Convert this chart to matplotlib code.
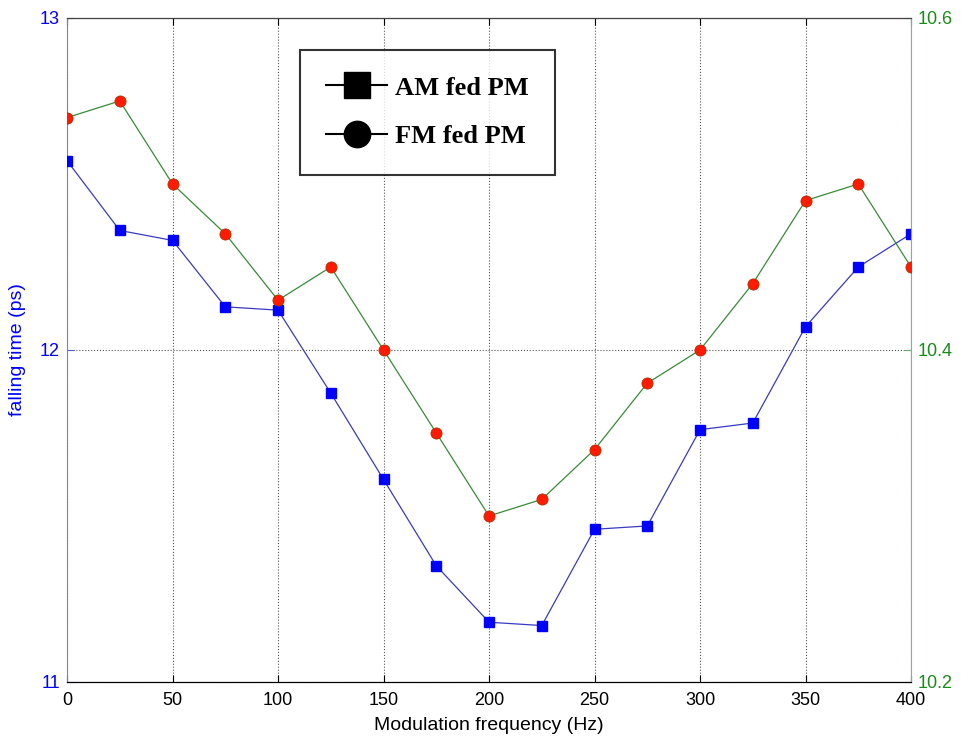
import matplotlib
matplotlib.use('Agg')
import matplotlib.pyplot as plt
from matplotlib.lines import Line2D

plt.rcParams['font.family'] = ['Liberation Sans', 'DejaVu Sans']

# modulation frequency (Hz)
freq = [0, 25, 50, 75, 100, 125, 150, 175, 200, 225, 250, 275, 300, 325, 350, 375, 400]
# AM fed PM, falling time (ps), left axis
am_fall = [12.57, 12.36, 12.33, 12.13, 12.12, 11.87, 11.61, 11.35, 11.18,
           11.17, 11.46, 11.47, 11.76, 11.78, 12.07, 12.25, 12.35]
# FM fed PM, right axis
fm_fall = [10.54, 10.55, 10.50, 10.47, 10.43, 10.45, 10.40, 10.35, 10.30,
           10.31, 10.34, 10.38, 10.40, 10.44, 10.49, 10.50, 10.45]

x_ticks = [0, 50, 100, 150, 200, 250, 300, 350, 400]
left_ticks = [11, 12, 13]
right_ticks = [10.2, 10.4, 10.6]
legend_labels = ['AM fed PM', 'FM fed PM']

blue = '#0000ff'
green = '#1a8a1a'

fig = plt.figure(figsize=(9.66, 7.40), dpi=100)
fig.patch.set_facecolor('white')
ax = fig.add_axes([0.0694, 0.0784, 0.8737, 0.8973])
ax2 = ax.twinx()

ax.plot(freq, am_fall, color='#3a3ac0', lw=0.9, marker='s', ms=7,
        mfc=blue, mec=blue, zorder=3)
ax2.plot(freq, fm_fall, color='#3a8a3a', lw=0.9, marker='o', ms=8,
         mfc='#ff1a00', mec='#b03000', mew=0.6, zorder=3)

ax.set_xlim(0, 400)
ax.set_ylim(11, 13)
ax2.set_ylim(10.2, 10.6)
ax.set_xticks(x_ticks)
ax.set_yticks(left_ticks)
ax2.set_yticks(right_ticks)
ax.set_yticklabels([str(t) for t in left_ticks])
ax2.set_yticklabels([f'{t:.1f}' for t in right_ticks])

ax.grid(True, linestyle=':', color='#555555', lw=0.8)
ax.tick_params(direction='in', length=5, labelsize=13, pad=5)
ax.tick_params(axis='x', colors='black', top=True, pad=7)
ax.tick_params(axis='y', colors='#5a5ad0', labelcolor=blue)
ax2.tick_params(direction='in', length=5, labelsize=13, pad=5,
                colors='#6aaa6a', labelcolor=green)

ax.spines['left'].set_color('#7b7bd8')
ax2.spines['left'].set_visible(False)
ax2.spines['right'].set_color('#7cb87c')
ax.spines['right'].set_visible(False)
ax2.spines['top'].set_color('#444444')
ax2.spines['bottom'].set_color('black')

ax.set_xlabel('Modulation frequency (Hz)', fontsize=14, labelpad=6)
ax.set_ylabel('falling time (ps)', fontsize=14, color=blue, labelpad=10)

handles = [Line2D([], [], color='black', lw=1.5, marker='s', ms=19, mfc='black'),
           Line2D([], [], color='black', lw=1.5, marker='o', ms=19, mfc='black')]
leg = ax2.legend(handles, legend_labels, loc='upper left', bbox_to_anchor=(0.276, 0.952),
                 prop={'family': 'Liberation Serif', 'weight': 'bold', 'size': 19},
                 frameon=True, fancybox=False, edgecolor='black', handlelength=2.3,
                 borderpad=1.0, labelspacing=0.95, handletextpad=0.3, borderaxespad=0)
leg.get_frame().set_linewidth(1.5)

plt.savefig('out.png', dpi=100, facecolor='white')
plt.close()
